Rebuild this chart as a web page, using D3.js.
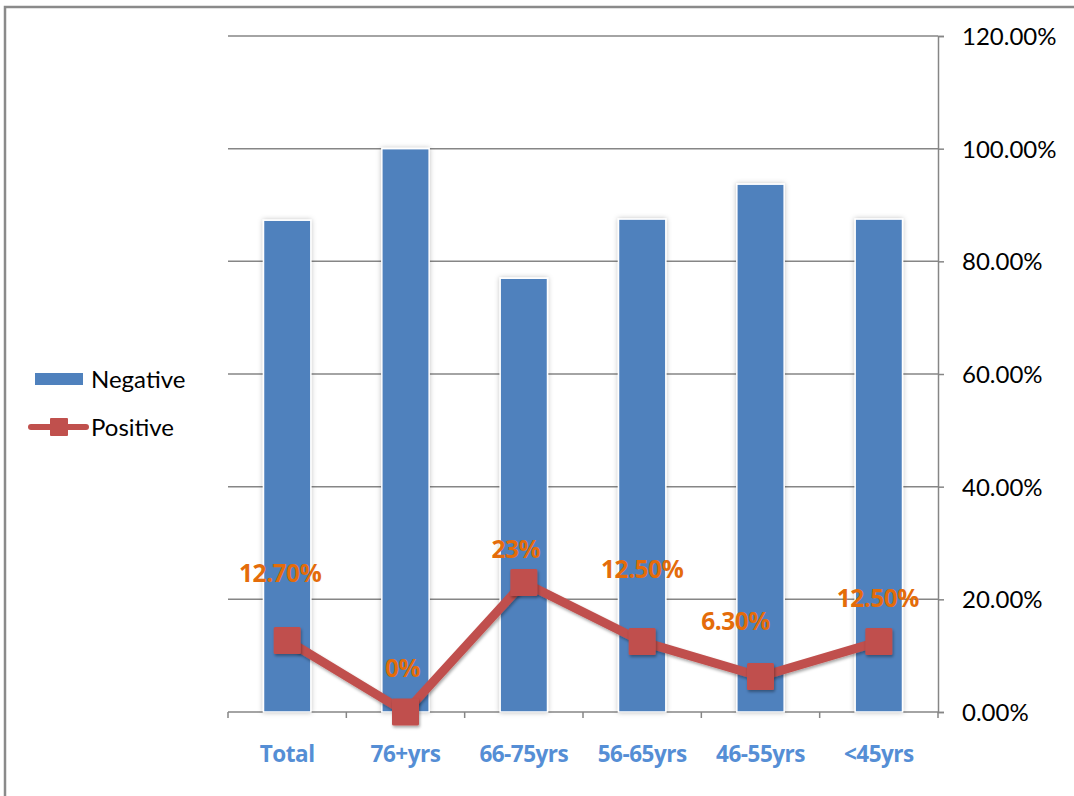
<!DOCTYPE html>
<html>
<head>
<meta charset="utf-8">
<script src="https://cdn.jsdelivr.net/npm/d3@7"></script>
<style>
  html, body { margin: 0; padding: 0; background: #fff; }
  svg { display: block; font-family: Lato, "Open Sans", sans-serif; }
</style>
</head>
<body>
<svg id="chart" width="1074" height="796"></svg>
<script>
// Age groups and the share of negative / positive results in each
const categories = ["Total", "76+yrs", "66-75yrs", "56-65yrs", "46-55yrs", "<45yrs"];
const negative = [87.3, 100, 77, 87.5, 93.7, 87.5];
const positive = [12.7, 0, 23, 12.5, 6.3, 12.5];
const positiveLabels = ["12.70%", "0%", "23%", "12.50%", "6.30%", "12.50%"];
const yTicks = [0, 20, 40, 60, 80, 100, 120];

// Hand-placed offsets of each value label from its point
const labelOffsets = [[-7, -58], [-3, -35], [-8, -24], [0, -64], [-25, -47], [-1, -35]];

const svg = d3.select("#chart");
const plot = { left: 228, right: 938, top: 36, bottom: 712 };
const boldFont = "'Open Sans', Lato, sans-serif";

const x = d3.scaleBand().domain(categories).range([plot.left, plot.right]).paddingInner(0.6).paddingOuter(0.3);
const xBand = d3.scaleBand().domain(categories).range([plot.left, plot.right]);
const y = d3.scaleLinear().domain([0, 120]).range([plot.bottom, plot.top]);

const defs = svg.append("defs");
const barShadow = defs.append("filter").attr("id", "barShadow").attr("x", "-30%").attr("y", "-10%").attr("width", "160%").attr("height", "120%");
barShadow.append("feDropShadow").attr("dx", 0).attr("dy", 0).attr("stdDeviation", 2.5).attr("flood-color", "#000").attr("flood-opacity", 0.25);
const markShadow = defs.append("filter").attr("id", "markShadow").attr("x", "-40%").attr("y", "-40%").attr("width", "180%").attr("height", "180%");
markShadow.append("feDropShadow").attr("dx", 1).attr("dy", 2).attr("stdDeviation", 1.5).attr("flood-color", "#000").attr("flood-opacity", 0.35);

// Outer frame
svg.append("rect").attr("x", 5).attr("y", 7).attr("width", 1080).attr("height", 800)
  .attr("fill", "none").attr("stroke", "#8a8a8a").attr("stroke-width", 2.5);

// Horizontal gridlines
svg.append("g").selectAll("line").data(yTicks.filter(d => d > 0)).join("line")
  .attr("x1", plot.left).attr("x2", plot.right)
  .attr("y1", d => y(d)).attr("y2", d => y(d))
  .attr("stroke", "#868686").attr("stroke-width", 1.5);

// Right value axis
const yAxis = svg.append("g").attr("transform", `translate(${plot.right},0)`)
  .call(d3.axisRight(y).tickValues(yTicks).tickSize(6).tickPadding(18).tickFormat(d => d3.format(".2f")(d) + "%"));
yAxis.select(".domain").attr("stroke", "#868686").attr("stroke-width", 1.5);
yAxis.selectAll(".tick line").attr("stroke", "#868686").attr("stroke-width", 1.5);
yAxis.selectAll(".tick text").attr("fill", "#000").attr("font-size", 24).attr("font-family", "Lato, sans-serif").attr("dy", "0.36em");

// Bottom category axis with ticks between bands
const xAxisG = svg.append("g");
xAxisG.append("line").attr("x1", plot.left).attr("x2", plot.right).attr("y1", plot.bottom).attr("y2", plot.bottom)
  .attr("stroke", "#868686").attr("stroke-width", 1.5);
const bounds = categories.map(c => xBand(c)).concat([plot.right]);
xAxisG.selectAll("line.tk").data(bounds).join("line").attr("class", "tk")
  .attr("x1", d => d).attr("x2", d => d).attr("y1", plot.bottom).attr("y2", plot.bottom + 6)
  .attr("stroke", "#868686").attr("stroke-width", 1.5);
xAxisG.selectAll("text").data(categories).join("text")
  .attr("x", d => xBand(d) + xBand.bandwidth() / 2).attr("y", 762)
  .attr("text-anchor", "middle").attr("font-size", 22.5).attr("font-weight", "bold")
  .attr("font-family", boldFont).attr("letter-spacing", -0.5)
  .attr("fill", "#558ED5").text(d => d);

// Negative bars
svg.append("g").selectAll("rect").data(negative).join("rect")
  .attr("x", (d, i) => x(categories[i]))
  .attr("y", d => y(d))
  .attr("width", x.bandwidth())
  .attr("height", d => y(0) - y(d))
  .attr("fill", "#4F81BD").attr("stroke", "#fff").attr("stroke-width", 1.5)
  .attr("filter", "url(#barShadow)");

// Positive line with square markers
const cx = c => xBand(c) + xBand.bandwidth() / 2;
const line = d3.line().x((d, i) => cx(categories[i])).y(d => y(d));
svg.append("path").datum(positive).attr("d", line)
  .attr("fill", "none").attr("stroke", "#C0504D").attr("stroke-width", 9)
  .attr("stroke-linejoin", "round").attr("filter", "url(#markShadow)");
const ms = 27;
svg.append("g").selectAll("rect").data(positive).join("rect")
  .attr("x", (d, i) => cx(categories[i]) - ms / 2)
  .attr("y", d => y(d) - ms / 2)
  .attr("width", ms).attr("height", ms).attr("rx", 1.5)
  .attr("fill", "#C0504D").attr("filter", "url(#markShadow)");

// Value labels
svg.append("g").selectAll("text").data(positive).join("text")
  .attr("x", (d, i) => cx(categories[i]) + labelOffsets[i][0])
  .attr("y", (d, i) => y(d) + labelOffsets[i][1])
  .attr("text-anchor", "middle").attr("font-size", 24.5).attr("font-weight", "bold")
  .attr("font-family", boldFont).attr("letter-spacing", -0.5)
  .attr("fill", "#E46C0A").text((d, i) => positiveLabels[i]);

// Legend
const legend = svg.append("g");
legend.append("rect").attr("x", 35).attr("y", 373).attr("width", 48).attr("height", 12).attr("fill", "#4F81BD");
legend.append("text").attr("x", 91).attr("y", 388).attr("font-size", 24).attr("fill", "#000").text("Negative");
legend.append("line").attr("x1", 31).attr("x2", 86).attr("y1", 427).attr("y2", 427)
  .attr("stroke", "#C0504D").attr("stroke-width", 6).attr("stroke-linecap", "round");
legend.append("rect").attr("x", 50).attr("y", 418).attr("width", 18).attr("height", 18).attr("rx", 1).attr("fill", "#C0504D");
legend.append("text").attr("x", 91).attr("y", 436).attr("font-size", 24).attr("fill", "#000").text("Positive");
</script>
</body>
</html>
